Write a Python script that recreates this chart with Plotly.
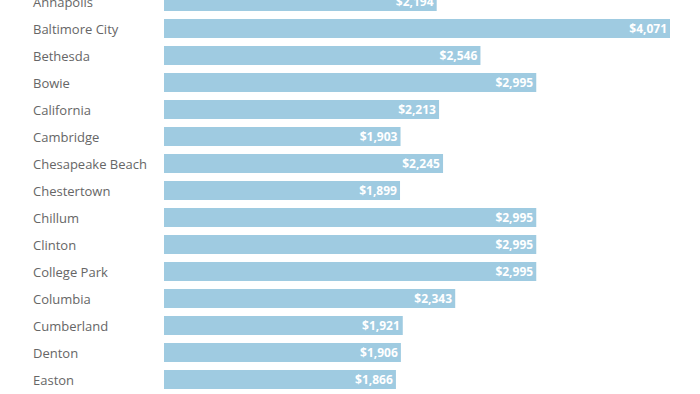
import plotly.graph_objects as go

cities = ["Annapolis", "Baltimore City", "Bethesda", "Bowie", "California", "Cambridge",
          "Chesapeake Beach", "Chestertown", "Chillum", "Clinton", "College Park",
          "Columbia", "Cumberland", "Denton", "Easton"]
rents = [2194, 4071, 2546, 2995, 2213, 1903, 2245, 1899, 2995, 2995, 2995, 2343, 1921, 1906, 1866]
labels = ["${:,}".format(v) for v in rents]

BAR = "#9fcbe1"
FONT = "Open Sans"

fig = go.Figure(go.Bar(
    x=rents, y=cities, orientation="h",
    marker=dict(color=BAR, line=dict(width=0)),
    width=0.7,
    text=labels, textposition="inside", insidetextanchor="end",
    constraintext="none",
    textfont=dict(family=FONT, size=12, color="white", weight="bold"),
    cliponaxis=False,
    hoverinfo="skip",
))

annotations = [
    dict(x=-0.2628, xref="paper", y=c, yref="y", text=c, showarrow=False,
         xanchor="left", yanchor="middle",
         font=dict(family=FONT, size=13, color="#666666"))
    for c in cities
]

fig.update_layout(
    width=700, height=394,
    margin=dict(l=164, r=30, t=0, b=0, pad=0),
    paper_bgcolor="white", plot_bgcolor="white",
    showlegend=False,
    bargap=0.3,
    uniformtext=dict(mode=False),
    annotations=annotations,
    xaxis=dict(range=[0, 4071], visible=False, fixedrange=True),
    yaxis=dict(categoryorder="array", categoryarray=cities,
               range=[14.537, -0.0556], showticklabels=False,
               showgrid=False, zeroline=False, fixedrange=True),
)

fig.write_html("out.html", config={"displayModeBar": False},
               post_script="document.body.style.margin='0';document.body.style.overflow='hidden';")
